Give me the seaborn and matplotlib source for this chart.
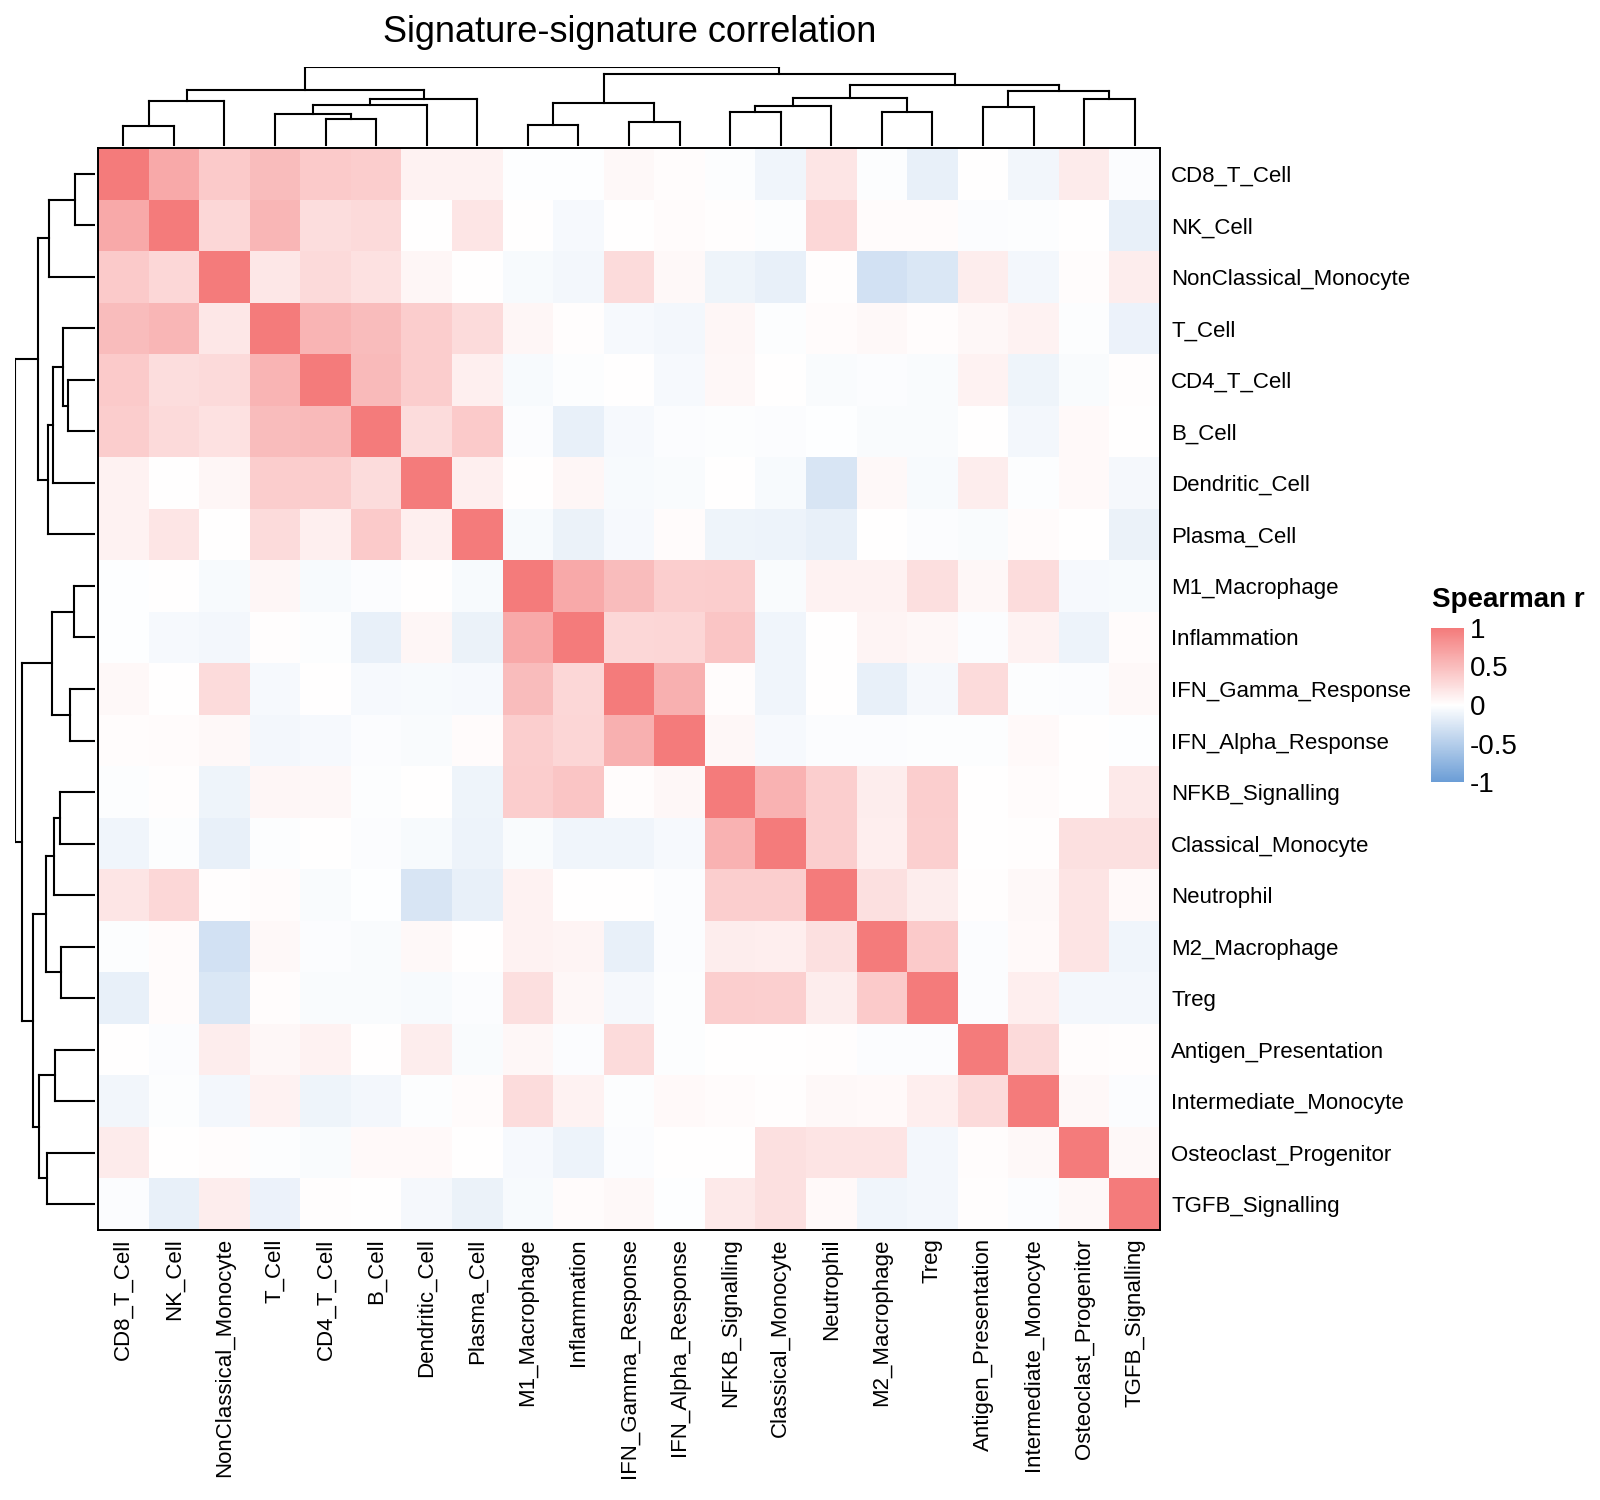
import numpy as np
import pandas as pd
import matplotlib
matplotlib.use("Agg")
import matplotlib.pyplot as plt
import seaborn as sns
from matplotlib.colors import LinearSegmentedColormap, Normalize
from matplotlib.cm import ScalarMappable

# シグネチャ名 (クラスタリング後の並び)
signatures = [
    "CD8_T_Cell", "NK_Cell", "NonClassical_Monocyte", "T_Cell", "CD4_T_Cell",
    "B_Cell", "Dendritic_Cell", "Plasma_Cell", "M1_Macrophage", "Inflammation",
    "IFN_Gamma_Response", "IFN_Alpha_Response", "NFKB_Signalling", "Classical_Monocyte",
    "Neutrophil", "M2_Macrophage", "Treg", "Antigen_Presentation",
    "Intermediate_Monocyte", "Osteoclast_Progenitor", "TGFB_Signalling",
]

# 上三角 (行 i の列 i+1 以降) の Spearman r
upper = [
    [0.65, 0.4, 0.5, 0.4, 0.38, 0.1, 0.1, -0.01, -0.01, 0.05, 0.02, -0.02, -0.1, 0.2, -0.02, -0.15, 0, -0.09, 0.15, -0.03],
    [0.3, 0.55, 0.25, 0.28, 0, 0.2, 0, -0.06, 0, 0.03, 0.01, -0.02, 0.3, 0.03, 0.03, -0.03, -0.02, 0, -0.15],
    [0.18, 0.28, 0.22, 0.07, 0, -0.05, -0.08, 0.27, 0.05, -0.11, -0.15, 0.01, -0.3, -0.25, 0.14, -0.08, 0.02, 0.14],
    [0.57, 0.5, 0.38, 0.27, 0.07, 0.01, -0.06, -0.08, 0.07, -0.02, 0.03, 0.05, 0.02, 0.06, 0.1, -0.02, -0.13],
    [0.52, 0.38, 0.12, -0.05, -0.02, 0, -0.06, 0.06, 0, -0.04, -0.03, -0.04, 0.1, -0.11, -0.04, 0.01],
    [0.26, 0.4, -0.03, -0.15, -0.06, -0.03, -0.02, -0.03, -0.01, -0.04, -0.04, 0, -0.08, 0.04, 0],
    [0.12, 0, 0.07, -0.05, -0.04, 0, -0.05, -0.26, 0.05, -0.05, 0.14, -0.02, 0.04, -0.07],
    [-0.05, -0.14, -0.06, 0.03, -0.11, -0.12, -0.15, 0, -0.03, -0.04, 0.03, 0, -0.14],
    [0.65, 0.5, 0.37, 0.38, -0.04, 0.1, 0.1, 0.24, 0.06, 0.26, -0.06, -0.05],
    [0.3, 0.31, 0.44, -0.1, 0, 0.08, 0.06, -0.03, 0.1, -0.12, 0.03],
    [0.6, 0.02, -0.1, 0, -0.15, -0.07, 0.27, -0.02, -0.03, 0.05],
    [0.06, -0.06, -0.03, -0.03, -0.02, -0.02, 0.04, 0, -0.01],
    [0.58, 0.37, 0.14, 0.37, 0, 0.03, 0, 0.17],
    [0.37, 0.13, 0.36, 0, 0.01, 0.23, 0.23],
    [0.23, 0.14, 0.01, 0.05, 0.21, 0.04],
    [0.4, -0.03, 0.04, 0.21, -0.1],
    [-0.03, 0.13, -0.08, -0.08],
    [0.28, 0.02, 0.01],
    [0.05, -0.03],
    [0.05],
]

# 樹形図: 結合する2ノード (0-20 が葉, 21 以降が結合済みクラスタ) と高さ
merge_left = [0, 21, 4, 3, 24, 25, 22, 8, 10, 28, 12, 31, 15, 32, 17, 19, 35, 34, 30, 27]
merge_right = [1, 2, 5, 23, 6, 7, 26, 9, 11, 29, 13, 14, 16, 33, 18, 20, 36, 37, 38, 39]
merge_height = [0.62, 1.38, 0.83, 0.98, 1.27, 1.43, 1.73, 0.63, 0.75, 1.31,
                1.05, 1.23, 1.03, 1.47, 1.21, 1.45, 1.69, 1.88, 2.21, 2.42]

n = len(signatures)
corr = np.eye(n)
for i, row in enumerate(upper):
    for j, v in enumerate(row):
        corr[i, i + 1 + j] = v
        corr[i + 1 + j, i] = v
df = pd.DataFrame(corr, index=signatures, columns=signatures)

sns.set_style("white")
plt.rcParams['font.family'] = ['Liberation Sans', 'DejaVu Sans']
plt.rcParams['text.color'] = 'black'
plt.rcParams['xtick.color'] = 'black'
plt.rcParams['ytick.color'] = 'black'

cmap = LinearSegmentedColormap.from_list("rwb", ["#6B9DD6", "#FFFFFF", "#F47B7B"])

W, H = 1600, 1500
fig = plt.figure(figsize=(16, 15), dpi=100)


def box(x0, y0, x1, y1):
    # ピクセル座標 (左上原点) -> figure 座標
    return [x0 / W, 1 - y1 / H, (x1 - x0) / W, (y1 - y0) / H]


hm_x0, hm_y0, hm_x1, hm_y1 = 98, 148, 1160, 1230
ax = fig.add_axes(box(hm_x0, hm_y0, hm_x1, hm_y1))
sns.heatmap(df, cmap=cmap, vmin=-1, vmax=1, cbar=False, ax=ax,
            xticklabels=True, yticklabels=True, square=False)
ax.yaxis.tick_right()
ax.set_yticklabels(signatures, rotation=0, ha="left", fontsize=16, color="black")
ax.set_xticklabels(signatures, rotation=90, ha="center", va="top", fontsize=16, color="black")
ax.tick_params(axis="both", length=0)
ax.tick_params(axis="y", pad=8)
ax.tick_params(axis="x", pad=6)
for s in ax.spines.values():
    s.set_visible(True)
    s.set_linewidth(1.4)
    s.set_color("black")
ax.set_xlabel("")
ax.set_ylabel("")


def dendro_segments():
    # 各ノードの位置と高さを求めて、描く線分を返す
    pos = {i: i + 0.5 for i in range(n)}
    hgt = {i: 0.0 for i in range(n)}
    segs = []
    for k, (a, b, h) in enumerate(zip(merge_left, merge_right, merge_height)):
        node = n + k
        segs.append(((pos[a], hgt[a]), (pos[a], h)))
        segs.append(((pos[b], hgt[b]), (pos[b], h)))
        segs.append(((pos[a], h), (pos[b], h)))
        pos[node] = (pos[a] + pos[b]) / 2
        hgt[node] = h
    return segs


segs = dendro_segments()
hmax = max(merge_height)

# 上の樹形図
ax_top = fig.add_axes(box(hm_x0, 67, hm_x1, 146))
for (x0, y0), (x1, y1) in segs:
    ax_top.plot([x0, x1], [y0, y1], color="black", lw=1.5, solid_capstyle="projecting")
ax_top.set_xlim(0, n)
ax_top.set_ylim(0, hmax)
ax_top.axis("off")

# 左の樹形図
ax_left = fig.add_axes(box(15, hm_y0, 95, hm_y1))
for (x0, y0), (x1, y1) in segs:
    ax_left.plot([y0, y1], [x0, x1], color="black", lw=1.5, solid_capstyle="projecting")
ax_left.set_ylim(n, 0)
ax_left.set_xlim(hmax, 0)
ax_left.axis("off")

# タイトル
fig.text(630 / W, 1 - 32 / H, "Signature-signature correlation",
         ha="center", va="center", fontsize=26)

# 凡例
cax = fig.add_axes(box(1431, 628, 1464, 782))
cb = fig.colorbar(ScalarMappable(norm=Normalize(-1, 1), cmap=cmap), cax=cax)
cb.outline.set_visible(False)
cb.set_ticks([-1, -0.5, 0, 0.5, 1])
cb.set_ticklabels(["-1", "-0.5", "0", "0.5", "1"])
cax.tick_params(axis="y", direction="in", color="white", width=1.5, length=7,
                left=True, right=True, labelsize=20, pad=4, labelcolor="black")
fig.text(1432 / W, 1 - 600 / H, "Spearman r", ha="left", va="center",
         fontsize=20, fontweight="bold")

fig.savefig("out.png", dpi=100)
